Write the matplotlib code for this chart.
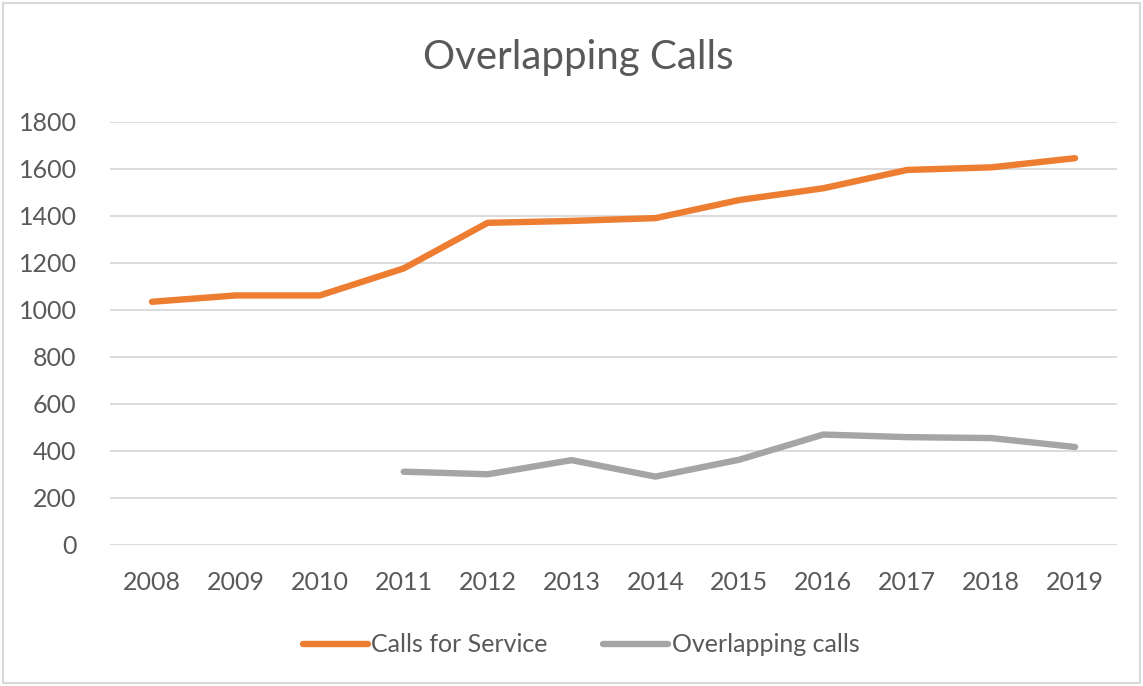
import matplotlib
matplotlib.use("Agg")
import matplotlib.pyplot as plt
from matplotlib.patches import Rectangle

years = ["2008", "2009", "2010", "2011", "2012", "2013", "2014", "2015", "2016", "2017", "2018", "2019"]
calls_for_service = [1035, 1062, 1062, 1177, 1371, 1379, 1391, 1468, 1518, 1596, 1607, 1646]
overlap_years = ["2011", "2012", "2013", "2014", "2015", "2016", "2017", "2018", "2019"]
overlapping_calls = [312, 301, 361, 291, 363, 470, 459, 455, 417]
yticks = [0, 200, 400, 600, 800, 1000, 1200, 1400, 1600, 1800]

plt.rcParams['font.family'] = ['Lato', 'DejaVu Sans']
text_color = "#595959"
orange = "#ED7D31"
gray = "#A5A5A5"

W, H = 1143, 686
fig = plt.figure(figsize=(W / 100, H / 100), dpi=100)
ax = fig.add_axes([110 / W, 1 - 545 / H, (1117 - 110) / W, (545 - 122) / H])

xpos = list(range(len(years)))
ax.plot(xpos, calls_for_service, color=orange, lw=4.6, solid_capstyle='round',
        solid_joinstyle='round', label="Calls for Service", zorder=3)
ox = [years.index(y) for y in overlap_years]
ax.plot(ox, overlapping_calls, color=gray, lw=4.6, solid_capstyle='round',
        solid_joinstyle='round', label="Overlapping calls", zorder=3)

ax.set_xlim(-0.5, len(years) - 0.5)
ax.set_ylim(0, 1800)
ax.set_yticks(yticks)
ax.set_yticklabels([str(v) for v in yticks])
ax.set_xticks(xpos)
ax.set_xticklabels(years)
ax.grid(axis='y', color="#D9D9D9", lw=1.3)
ax.set_axisbelow(True)
for s in ax.spines.values():
    s.set_visible(False)
ax.tick_params(axis='both', length=0, labelsize=18, colors=text_color)
ax.tick_params(axis='y', pad=24)
ax.tick_params(axis='x', pad=19)

fig.text(578 / W, 1 - 57 / H, "Overlapping Calls", ha='center', va='center',
         fontsize=29, color=text_color)

leg = fig.legend(loc='center', bbox_to_anchor=(581 / W, 1 - 645 / H), ncol=2,
                 frameon=False, fontsize=18, handlelength=2.6, handletextpad=0.15,
                 columnspacing=2.2)
for t in leg.get_texts():
    t.set_color(text_color)

fig.patches.append(Rectangle((3 / W, 3 / H), (W - 6) / W, (H - 6) / H,
                             transform=fig.transFigure, fill=False,
                             edgecolor="#D9D9D9", lw=1.5))

fig.savefig("out.png", dpi=100, facecolor="white")
